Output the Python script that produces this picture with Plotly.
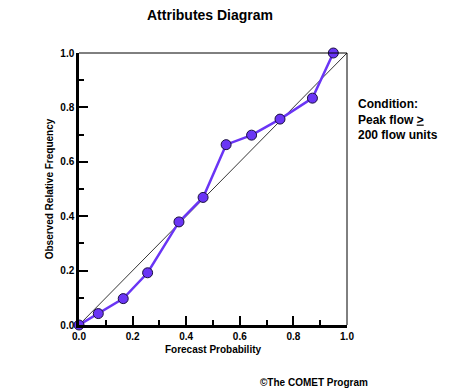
import plotly.graph_objects as go

forecast_prob = [0.0, 0.072, 0.165, 0.256, 0.373, 0.463, 0.549, 0.644, 0.750, 0.871, 0.949]
observed_freq = [0.0, 0.042, 0.097, 0.192, 0.379, 0.469, 0.663, 0.698, 0.757, 0.834, 1.0]
diag = [0.0, 1.0]
tick_vals = [0.0, 0.2, 0.4, 0.6, 0.8, 1.0]
tick_text = ["0.0", "0.2", "0.4", "0.6", "0.8", "1.0"]

FONT = "Liberation Sans, Arial, sans-serif"
PURPLE = "#6a35f5"

fig = go.Figure()
fig.add_trace(go.Scatter(x=diag, y=diag, mode="lines",
                         line=dict(color="black", width=0.8),
                         hoverinfo="skip", showlegend=False))
fig.add_trace(go.Scatter(x=forecast_prob, y=observed_freq, mode="lines+markers",
                         line=dict(color=PURPLE, width=2.5),
                         marker=dict(size=10, color=PURPLE,
                                     line=dict(color="#1a1040", width=1)),
                         cliponaxis=False, showlegend=False))

axis_common = dict(
    range=[0, 1], tickvals=tick_vals, ticktext=tick_text,
    showgrid=False, zeroline=False,
    showline=True, linecolor="black", linewidth=2.5,
    ticks="inside", ticklen=9, tickwidth=2, tickcolor="black",
    minor=dict(ticks="inside", ticklen=5, tickwidth=2, tickcolor="black", dtick=0.1),
    tickfont=dict(family=FONT, size=10, color="black", weight="bold"),
)

fig.update_xaxes(**axis_common,
                 title=dict(text="<b>Forecast Probability</b>",
                            font=dict(family=FONT, size=10, color="black"), standoff=6))
fig.update_yaxes(**axis_common,
                 title=dict(text="<b>Observed Relative Frequency</b>",
                            font=dict(family=FONT, size=10, color="black"), standoff=5))

# thin top and right frame lines
fig.add_shape(type="line", xref="paper", yref="paper", x0=0, x1=1, y0=1, y1=1,
              line=dict(color="black", width=1))
fig.add_shape(type="line", xref="paper", yref="paper", x0=1, x1=1, y0=0, y1=1,
              line=dict(color="black", width=1))

fig.add_annotation(text="<b>Attributes Diagram</b>", xref="paper", yref="paper",
                   x=0.49, y=1.0, yshift=38, showarrow=False, xanchor="center", yanchor="middle",
                   font=dict(family=FONT, size=14, color="black"))
fig.add_annotation(text="<b>Condition:<br>Peak flow <u>></u><br>200 flow units</b>",
                   xref="paper", yref="paper", x=1.0, xshift=9, y=0.757,
                   showarrow=False, xanchor="left", yanchor="middle", align="left",
                   font=dict(family=FONT, size=12, color="black"))
fig.add_annotation(text="<b>©The COMET Program</b>", xref="paper", yref="paper",
                   x=1.0, xshift=23, y=0, yshift=-57, showarrow=False,
                   xanchor="right", yanchor="middle",
                   font=dict(family=FONT, size=10, color="black"))

# page body has an 8px margin, so shrink the figure and margins accordingly
fig.update_layout(
    width=450, height=382,
    margin=dict(l=71, r=111, t=45, b=65),
    paper_bgcolor="white", plot_bgcolor="white",
    font=dict(family=FONT, color="black"),
)

fig.write_html("out.html")
